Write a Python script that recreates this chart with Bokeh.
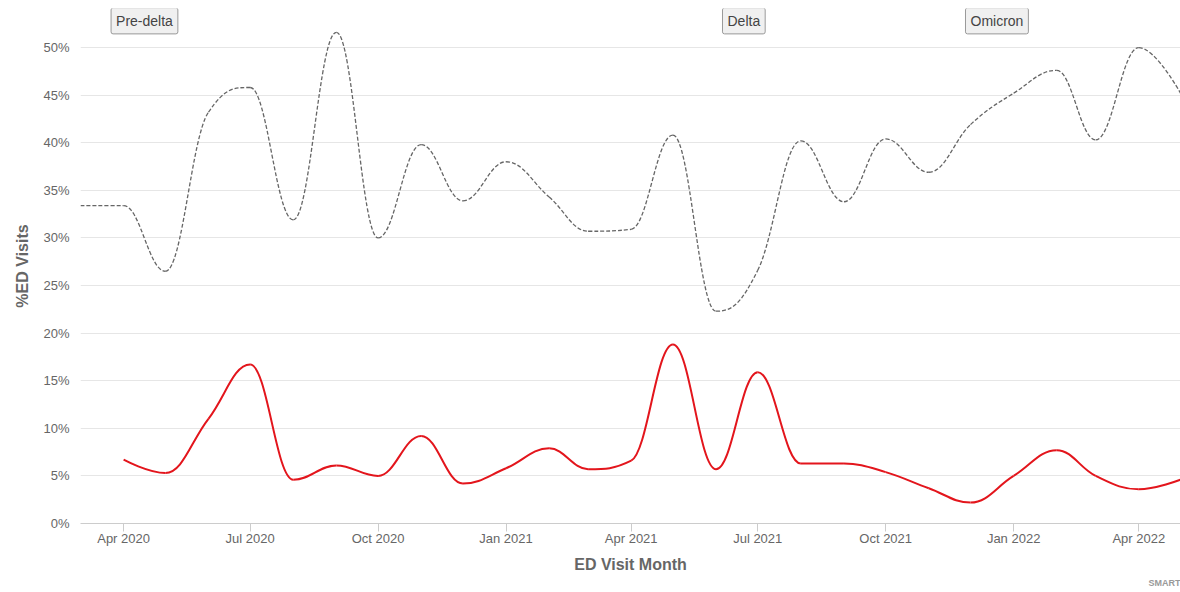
import numpy as np
import pandas as pd
from bokeh.plotting import figure
from bokeh.models import (Range1d, FixedTicker, MonthsTicker, DatetimeTickFormatter,
                          PrintfTickFormatter, Label, Title)
from bokeh.embed import file_html
from bokeh.resources import INLINE

# ---------------- data ----------------
gray_months = pd.date_range("2020-03-01", "2022-05-01", freq="MS")
gray_values = [33.4, 33.4, 26.5, 43.2, 45.8, 31.9, 51.6, 30.0, 39.8, 33.9,
               38.0, 34.3, 30.7, 30.9, 40.8, 22.3, 26.6, 40.2, 33.8, 40.4, 36.9, 41.9,
               45.2, 47.6, 40.3, 50.0, 45.2]
red_months = pd.date_range("2020-04-01", "2022-05-01", freq="MS")
red_values = [6.7, 5.3, 11.0, 16.7, 4.6, 6.1, 5.0, 9.2, 4.2,
              5.8, 7.9, 5.7, 6.6, 18.8, 5.7, 15.9, 6.3, 6.3, 5.4, 3.7, 2.2,
              5.0, 7.7, 5.0, 3.6, 4.6]
y_ticks = [0, 5, 10, 15, 20, 25, 30, 35, 40, 45, 50]
variant_labels = ["Pre-delta", "Delta", "Omicron"]
variant_dates = [pd.Timestamp("2020-04-16"), pd.Timestamp("2021-06-21"), pd.Timestamp("2021-12-20")]

FONT = "Liberation Sans"


def to_ms(dates):
    return np.array([d.value / 1e6 for d in dates], dtype=float)


def spline_segments(xs, ys, smoothing=1.5):
    """Highcharts-style spline control points -> bezier segments."""
    n = len(xs)
    left = [(xs[i], ys[i]) for i in range(n)]
    right = [(xs[i], ys[i]) for i in range(n)]
    denom = smoothing + 1
    for i in range(1, n - 1):
        px, py = xs[i], ys[i]
        lx, ly = xs[i - 1], ys[i - 1]
        nx, ny = xs[i + 1], ys[i + 1]
        lcx = (smoothing * px + lx) / denom
        lcy = (smoothing * py + ly) / denom
        rcx = (smoothing * px + nx) / denom
        rcy = (smoothing * py + ny) / denom
        if rcx != lcx:
            corr = ((rcy - lcy) * (rcx - px)) / (rcx - lcx) + py - rcy
            lcy += corr
            rcy += corr
        if lcy > ly and lcy > py:
            lcy = max(ly, py)
            rcy = 2 * py - lcy
        elif lcy < ly and lcy < py:
            lcy = min(ly, py)
            rcy = 2 * py - lcy
        if rcy > ny and rcy > py:
            rcy = max(ny, py)
            lcy = 2 * py - rcy
        elif rcy < ny and rcy < py:
            rcy = min(ny, py)
            lcy = 2 * py - rcy
        left[i] = (lcx, lcy)
        right[i] = (rcx, rcy)
    seg = dict(x0=[], y0=[], x1=[], y1=[], cx0=[], cy0=[], cx1=[], cy1=[])
    for i in range(n - 1):
        seg["x0"].append(xs[i]); seg["y0"].append(ys[i])
        seg["x1"].append(xs[i + 1]); seg["y1"].append(ys[i + 1])
        seg["cx0"].append(right[i][0]); seg["cy0"].append(right[i][1])
        seg["cx1"].append(left[i + 1][0]); seg["cy1"].append(left[i + 1][1])
    return seg


x_start = pd.Timestamp("2020-03-01").value / 1e6
x_end = pd.Timestamp("2022-05-01").value / 1e6

p = figure(width=1180, height=592, x_axis_type="datetime",
           x_range=Range1d(x_start, x_end), y_range=Range1d(0, 54.1),
           output_backend="svg", toolbar_location=None,
           min_border_left=80, min_border_right=0, min_border_top=8, min_border_bottom=69)
p.outline_line_color = None
p.background_fill_color = "white"
p.border_fill_color = "white"

g = spline_segments(to_ms(gray_months), np.array(gray_values, dtype=float))
p.bezier(line_color="#666666", line_width=1.3, line_dash="4 2", **g)
r = spline_segments(to_ms(red_months), np.array(red_values, dtype=float))
p.bezier(line_color="#e3151c", line_width=2, **r)

# axes
p.xgrid.grid_line_color = None
p.ygrid.grid_line_color = "#e6e6e6"
p.ygrid.ticker = FixedTicker(ticks=y_ticks)

xa = p.xaxis[0]
xa.ticker = MonthsTicker(months=[0, 3, 6, 9])
xa.formatter = DatetimeTickFormatter(days="%b %Y", months="%b %Y", years="%b %Y")
xa.axis_line_color = "#cccccc"
xa.major_tick_line_color = "#cccccc"
xa.major_tick_out = 8
xa.major_tick_in = 0
xa.minor_tick_line_color = None
xa.major_label_text_font = FONT
xa.major_label_text_font_size = "13px"
xa.major_label_text_color = "#666666"
xa.major_label_standoff = -1
xa.axis_label = "ED Visit Month"
xa.axis_label_text_font = FONT
xa.axis_label_text_font_size = "16px"
xa.axis_label_text_font_style = "bold"
xa.axis_label_text_color = "#666666"
xa.axis_label_standoff = 7

ya = p.yaxis[0]
ya.ticker = FixedTicker(ticks=y_ticks)
ya.formatter = PrintfTickFormatter(format="%d%%")
ya.axis_line_color = None
ya.major_tick_line_color = None
ya.major_tick_out = 0
ya.major_tick_in = 0
ya.minor_tick_line_color = None
ya.major_label_text_font = FONT
ya.major_label_text_font_size = "13px"
ya.major_label_text_color = "#666666"
ya.major_label_standoff = 11
ya.axis_label = "%ED Visits"
ya.axis_label_text_font = FONT
ya.axis_label_text_font_size = "16px"
ya.axis_label_text_font_style = "bold"
ya.axis_label_text_color = "#666666"
ya.axis_label_standoff = 9

for txt, d in zip(variant_labels, variant_dates):
    p.add_layout(Label(x=d.value / 1e6, y=52.8, text=txt, text_align="center",
                       text_baseline="middle", text_font=FONT, text_font_size="14px",
                       text_color="#444444", background_fill_color="#f0f0f0",
                       border_line_color="#999999", padding=5, border_radius=2))

credit = Title(text="SMART", align="right", text_font=FONT, text_font_size="9px",
               text_font_style="bold", text_color="#999999", standoff=0, offset=0)
p.add_layout(credit, "below")

open("out.html", "w").write(file_html(p, INLINE))
